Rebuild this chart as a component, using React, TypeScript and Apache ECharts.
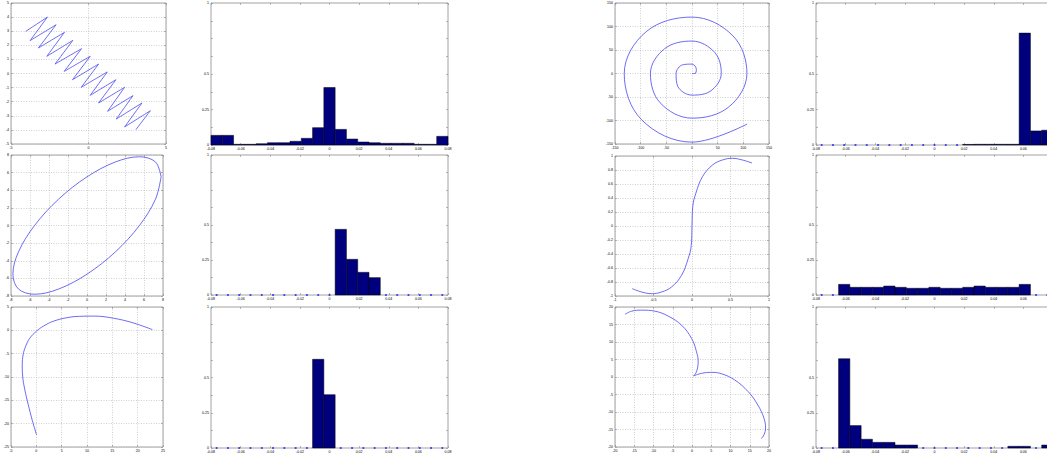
import React, { useEffect, useRef } from 'react';
import * as echarts from 'echarts';

// ---------- line panels ----------
const zigzag: number[][] = [
  [-4.05, 2.99], [-2.65, 4.0], [-3.77, 2.33], [-2.09, 3.46], [-3.23, 1.81], [-1.55, 2.92],
  [-2.69, 1.22], [-1.01, 2.35], [-2.16, 0.67], [-0.45, 1.76], [-1.57, 0.15], [0.11, 1.22],
  [-1.03, -0.44], [0.65, 0.67], [-0.47, -0.98], [1.21, 0.11], [0.11, -1.55], [1.77, -0.44],
  [0.65, -2.09], [2.33, -0.98], [1.23, -2.68], [2.87, -1.57], [1.79, -3.23], [3.45, -2.09],
  [2.33, -3.79], [3.99, -2.64], [3.06, -3.98],
];

const ellipse: number[][] = [
  [7.8, 5.52], [7.21, 7.21], [5.52, 7.8], [2.99, 7.21], [0, 5.52], [-2.99, 2.99], [-5.52, 0],
  [-7.21, -2.99], [-7.8, -5.52], [-7.21, -7.21], [-5.52, -7.8], [-2.99, -7.21], [0, -5.52],
  [2.99, -2.99], [5.52, 0], [7.21, 2.99], [7.8, 5.52],
];

const hook: number[][] = [
  [22.9, 0.15], [19.1, 1.6], [15.2, 2.6], [11.5, 3.05], [8.5, 3.0], [6.0, 2.7], [3.35, 1.94],
  [1.4, 0.9], [0.0, -0.2], [-1.3, -1.7], [-2.1, -3.4], [-2.6, -5.2], [-2.78, -7.4],
  [-2.7, -9.8], [-2.3, -12.6], [-1.6, -15.9], [-0.8, -19.3], [0.05, -22.4],
];

const spiral: number[][] = [
  [0, 0], [6, 0], [8.5, 8.5], [0, 20], [-18.4, 18.4], [-31, 0], [-27.6, -27.6], [0, -46],
  [36.8, -36.8], [57, 0], [44.5, 44.5], [0, 69], [-53, 53], [-81, 0], [-62.2, -62.2],
  [0, -95], [71.4, -71.4], [107, 0], [79.9, 79.9], [0, 120], [-89.1, 89.1], [-132, 0],
  [-98.3, -98.3], [0, -146], [107.5, -107.5],
];

const sCurve: number[][] = [
  [-0.776, -0.895], [-0.654, -0.943], [-0.525, -0.967], [-0.395, -0.943], [-0.266, -0.871],
  [-0.136, -0.705], [-0.05, -0.467], [-0.01, -0.28], [0, 0], [0.01, 0.28], [0.05, 0.467],
  [0.136, 0.705], [0.266, 0.871], [0.395, 0.943], [0.525, 0.967], [0.654, 0.943], [0.78, 0.9],
];

const arcA: number[][] = [
  [-17.4, 17.9], [-15.7, 18.8], [-13.1, 19.1], [-9.6, 18.8], [-6.2, 17.4], [-2.7, 14.8],
  [-0.1, 11.0], [1.17, 7.2], [1.6, 4.4], [1.17, 1.5], [0.4, 0.3],
];
const arcB: number[][] = [
  [0.4, 0.3], [2.46, 1.04], [5.05, 1.33], [7.6, 0.95], [11.1, -0.85], [14.6, -4.2],
  [17.1, -8.0], [18.7, -11.8], [19.1, -14.6], [18.7, -16.5], [18.0, -17.6],
];

// ---------- histogram panels: 21 bins over [-0.08, 0.08] ----------
const hist1 = [0.068, 0.068, 0.005, 0.005, 0.009, 0.016, 0.016, 0.026, 0.047, 0.122, 0.405,
  0.11, 0.042, 0.021, 0.016, 0.012, 0.012, 0.012, 0.005, 0.005, 0.061];
const hist2 = [0, 0, 0, 0, 0, 0, 0, 0, 0, 0, 0, 0.469, 0.255, 0.162, 0.124, 0, 0, 0, 0, 0, 0];
const hist3 = [0, 0, 0, 0, 0, 0, 0, 0, 0, 0.629, 0.378, 0, 0, 0, 0, 0, 0, 0, 0, 0, 0];
const hist4 = [0, 0, 0, 0, 0, 0, 0, 0, 0, 0, 0, 0, 0, 0.004, 0.005, 0.005, 0.005, 0.005,
  0.788, 0.099, 0.104];
const hist5 = [0, 0, 0.076, 0.055, 0.055, 0.055, 0.064, 0.055, 0.048, 0.048, 0.055, 0.048,
  0.048, 0.055, 0.064, 0.055, 0.055, 0.055, 0.076, 0, 0];
const hist6 = [0, 0, 0.633, 0.159, 0.062, 0.04, 0.04, 0.021, 0.021, 0, 0, 0, 0, 0, 0, 0, 0,
  0.012, 0.012, 0, 0.021];

const histMin = -0.08;
const histMax = 0.08;
const histYLabels = [0, 0.25, 0.5, 1];

type Panel =
  | { kind: 'line'; box: number[]; x: number[]; y: number[]; series: number[][][]; smooth: number }
  | { kind: 'hist'; box: number[]; heights: number[]; cut?: boolean };

const panels: Panel[] = [
  { kind: 'line', box: [11, 3, 155, 141], x: [-5, 5, 5], y: [-5, 5, 1], series: [zigzag], smooth: 0.42 },
  { kind: 'hist', box: [211, 3, 237, 142], heights: hist1 },
  { kind: 'line', box: [11, 155, 152, 141], x: [-8, 8, 2], y: [-8, 8, 2], series: [ellipse], smooth: 0.35 },
  { kind: 'hist', box: [211, 155, 237, 140], heights: hist2 },
  { kind: 'line', box: [11, 307, 152, 140], x: [-5, 25, 5], y: [-25, 5, 5], series: [hook], smooth: 0.4 },
  { kind: 'hist', box: [211, 307, 237, 141], heights: hist3 },
  { kind: 'line', box: [615, 3, 154, 141], x: [-150, 150, 50], y: [-150, 150, 50], series: [spiral], smooth: 0.37 },
  { kind: 'hist', box: [816, 3, 237, 142], heights: hist4, cut: true },
  { kind: 'line', box: [615, 156, 154, 140], x: [-1, 1, 0.5], y: [-1, 1, 0.2], series: [sCurve], smooth: 0.4 },
  { kind: 'hist', box: [816, 155, 237, 140], heights: hist5, cut: true },
  { kind: 'line', box: [615, 307, 154, 140], x: [-20, 20, 5], y: [-20, 20, 5], series: [arcA, arcB], smooth: 0.4 },
  { kind: 'hist', box: [816, 307, 237, 141], heights: hist6, cut: true },
];

const FONT = 'Liberation Sans';
const LABEL = { fontSize: 3.6, color: '#000', fontFamily: FONT };
const BOX = '#8c8c8c';

function buildOption() {
  const grid: any[] = [];
  const xAxis: any[] = [];
  const yAxis: any[] = [];
  const series: any[] = [];
  const tick = { show: true, inside: true, length: 2, lineStyle: { color: BOX, width: 0.6 } };
  const noLine = { show: false, onZero: false };

  panels.forEach((p, i) => {
    const [l, t, w, h] = p.box;
    grid.push({
      left: l, top: t, width: w, height: h, show: true, borderColor: BOX, borderWidth: 0.8,
      backgroundColor: '#fff', containLabel: false, outerBoundsMode: 'none',
    });
    const isLine = p.kind === 'line';
    const cut = p.kind === 'hist' && !!p.cut;
    const xr = isLine ? p.x : [histMin, histMax, 0.02];
    const yr = isLine ? p.y : [0, 1, 0.125];
    const gridLines = { show: isLine, lineStyle: { color: '#b0b0b0', type: [1, 1.5], width: 0.6 } };
    xAxis.push({
      type: 'value', gridIndex: i, min: xr[0], max: xr[1], interval: xr[2], position: 'bottom',
      axisLine: noLine, axisTick: tick, splitLine: gridLines,
      axisLabel: { ...LABEL, margin: 2, showMinLabel: true, showMaxLabel: !cut },
    });
    yAxis.push({
      type: 'value', gridIndex: i, min: yr[0], max: yr[1], interval: yr[2], position: 'left',
      axisLine: noLine, axisTick: tick, splitLine: gridLines,
      axisLabel: {
        ...LABEL, margin: 2, showMinLabel: true, showMaxLabel: true,
        formatter: isLine
          ? undefined
          : (v: number) => (histYLabels.some((q) => Math.abs(q - v) < 1e-9) ? String(v) : ''),
      },
    });

    if (p.kind === 'line') {
      p.series.forEach((d) => {
        series.push({
          type: 'line', xAxisIndex: i, yAxisIndex: i, data: d, smooth: p.smooth, showSymbol: false,
          symbol: 'none', lineStyle: { color: '#4646f0', width: 0.8 }, silent: true, clip: true,
        });
      });
    } else {
      const nb = p.heights.length;
      const bw = (histMax - histMin) / nb;
      const bars = p.heights
        .map((hgt, k) => [histMin + k * bw, histMin + (k + 1) * bw, hgt])
        .filter((b) => b[2] > 0);
      const dots = p.heights
        .map((hgt, k) => [histMin + (k + 0.5) * bw, hgt])
        .filter((d) => d[1] === 0);
      series.push({
        type: 'custom', xAxisIndex: i, yAxisIndex: i, data: bars, encode: { x: [0, 1], y: 2 },
        silent: true,
        renderItem: (params: any, api: any) => {
          const p0 = api.coord([api.value(0), 0]);
          const p1 = api.coord([api.value(1), api.value(2)]);
          return {
            type: 'rect',
            shape: { x: p0[0], y: p1[1], width: p1[0] - p0[0], height: p0[1] - p1[1] },
            style: { fill: '#00007f', stroke: '#000', lineWidth: 0.5 },
          };
        },
      });
      series.push({
        type: 'scatter', xAxisIndex: i, yAxisIndex: i, data: dots, symbol: 'circle', symbolSize: 2.2,
        itemStyle: { color: '#2020ff' }, silent: true,
      });
    }
  });

  // mirrored ticks on top and right
  panels.forEach((p, i) => {
    const isLine = p.kind === 'line';
    const xr = isLine ? p.x : [histMin, histMax, 0.02];
    const yr = isLine ? p.y : [0, 1, 0.125];
    xAxis.push({
      type: 'value', gridIndex: i, min: xr[0], max: xr[1], interval: xr[2], position: 'top',
      axisLine: noLine, axisTick: tick, splitLine: { show: false }, axisLabel: { show: false },
    });
    yAxis.push({
      type: 'value', gridIndex: i, min: yr[0], max: yr[1], interval: yr[2], position: 'right',
      axisLine: noLine, axisTick: tick, splitLine: { show: false }, axisLabel: { show: false },
    });
  });

  return { animation: false, backgroundColor: '#fff', grid, xAxis, yAxis, series };
}

export default function App() {
  const ref = useRef<HTMLDivElement>(null);
  useEffect(() => {
    if (!ref.current) return;
    const chart = echarts.init(ref.current, undefined, { renderer: 'svg' });
    chart.setOption(buildOption() as any);
    return () => chart.dispose();
  }, []);
  return (
    <div
      ref={ref}
      style={{ position: 'absolute', left: 0, top: 0, width: 1047, height: 458, background: '#fff' }}
    />
  );
}
